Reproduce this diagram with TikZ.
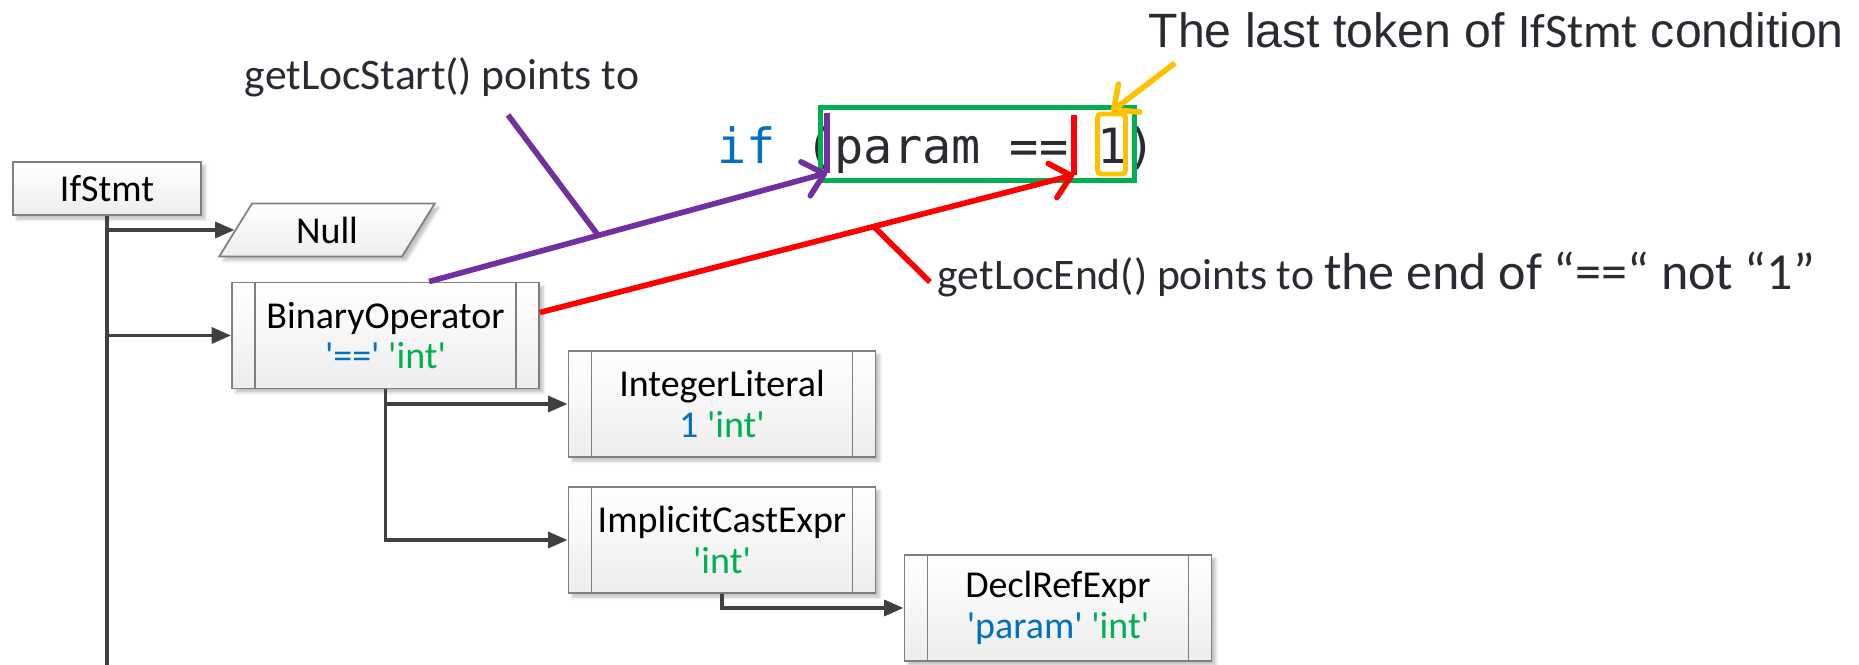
\documentclass[tikz,border=0pt]{standalone}
\usepackage{fontspec}
\usepackage{xcolor}
\usetikzlibrary{arrows.meta,shapes.geometric,shadows.blur}
\newfontfamily\boxfont[Ligatures=TeXOff]{Carlito}
\newfontfamily\notefont{Carlito}
\newfontfamily\titlefont{Liberation Sans}
\newfontfamily\codefont{DejaVu Sans Mono}
\definecolor{boxgray}{HTML}{7F7F7F}
\definecolor{connect}{HTML}{404040}
\definecolor{codeblue}{HTML}{0070C0}
\definecolor{typegreen}{HTML}{00B050}
\definecolor{condgreen}{HTML}{00B050}
\definecolor{startpurple}{HTML}{7030A0}
\definecolor{endred}{HTML}{FF0000}
\definecolor{tokorange}{HTML}{FFC000}
\definecolor{notegray}{HTML}{2A2A33}

\begin{document}
\begin{tikzpicture}[x=0.01cm,y=-0.01cm,
    astbox/.style = {draw=boxgray, line width=0.5pt, top color=white, bottom color=black!7,
      font=\boxfont\fontsize{10.8}{11.6}\selectfont, align=center, inner sep=0pt,
      blur shadow={shadow xshift=0.04cm, shadow yshift=-0.04cm, shadow blur radius=0.03cm, shadow opacity=25}},
    procbox/.style = {astbox, minimum width=3.07cm, minimum height=1.06cm,
      path picture={\draw[boxgray, line width=0.5pt]
        ([xshift=0.23cm]path picture bounding box.north west) -- ([xshift=0.23cm]path picture bounding box.south west)
        ([xshift=-0.23cm]path picture bounding box.north east) -- ([xshift=-0.23cm]path picture bounding box.south east);}},
    datanode/.style = {astbox, trapezium, trapezium left angle=63, trapezium right angle=117,
      trapezium stretches=true, minimum width=2.16cm, minimum height=0.53cm},
    conn/.style = {draw=connect, line width=1.05pt, -{Triangle[length=5.5pt,width=4.5pt]}},
    trunkline/.style = {draw=connect, line width=1.05pt},
    startline/.style = {draw=startpurple, line width=1.6pt},
    endline/.style = {draw=endred, line width=1.6pt},
    tokline/.style = {draw=tokorange, line width=1.6pt},
    barb/.style = {-{Straight Barb[length=5.5pt,width=10pt,round]}},
    codetext/.style = {font=\codefont\fontsize{13.8}{17}\selectfont, text=notegray, inner sep=0pt},
    notetext/.style = {font=\notefont\fontsize{12.4}{14}\selectfont, text=notegray, inner sep=0pt},
    titletext/.style = {font=\titlefont\fontsize{13.7}{16}\selectfont, text=notegray, inner sep=0pt}]
  \useasboundingbox (0,0) rectangle (1859,665);

  \node[astbox, minimum width=1.88cm, minimum height=0.53cm] at (107,188.5)(ifstmt){IfStmt};
  \node[datanode] at (327,230)(null){Null};
  \node[procbox] at (385.5,335.5)(binop){BinaryOperator\\\textcolor{codeblue}{'=='} \textcolor{typegreen}{'int'}};
  \node[procbox] at (722,404)(intlit){IntegerLiteral\\\textcolor{codeblue}{1} \textcolor{typegreen}{'int'}};
  \node[procbox] at (722,540)(cast){ImplicitCastExpr\\\textcolor{typegreen}{'int'}};
  \node[procbox] at (1058,608)(declref){DeclRefExpr\\\textcolor{codeblue}{'param'} \textcolor{typegreen}{'int'}};

  \coordinate (trunkend) at (107,665);

  \draw[trunkline] (ifstmt.south) -- (trunkend);
  \draw[conn] (ifstmt.south |- null) -- (null);
  \draw[conn] (ifstmt.south |- binop) -- (binop);
  \draw[conn] (binop.south) |- (intlit);
  \draw[conn] (binop.south) |- (cast);
  \draw[conn] (cast.south) |- (declref);

  \node[codetext, anchor=base west] at (717,164)(code){\textcolor{codeblue}{if} (param == 1)};
  \node[draw=condgreen, line width=1.4pt, minimum width=3.14cm, minimum height=0.73cm, inner sep=0pt] at (977.5,144)(cond){};
  \node[draw=tokorange, line width=1.4pt, rounded corners=1pt, minimum width=0.28cm, minimum height=0.6cm, inner sep=0pt] at (1111.5,144)(lasttok){};

  \coordinate (starttop) at (827,113);
  \coordinate (startmark) at (827,173);
  \coordinate (endtop) at (1074,115);
  \coordinate (endmark) at (1074,175);

  \draw[startline, line width=1.8pt] (starttop) -- (startmark);
  \draw[endline, line width=1.8pt] (endtop) -- (endmark);

  \draw[startline, barb] ([xshift=0.435cm]binop.north) -- coordinate[pos=0.425](startfoot) (startmark);
  \draw[endline, barb] ([yshift=0.23cm]binop.east) -- coordinate[pos=0.625](endfoot) (endmark);

  \node[notetext, anchor=base] at (442,90)(startnote){getLocStart() points to};
  \node[notetext, anchor=base west] at (937,290)(endnote){getLocEnd() points to {\fontsize{14.8}{18}\selectfont the end of “==“ not “1”}};
  \node[titletext, anchor=base west] at (1148,48)(lastnote){The last token of {\boxfont IfStmt} condition};

  \coordinate (startlead) at (508,115);
  \coordinate (endlead) at (930,282);
  \coordinate (lastlead) at (1175,63);

  \draw[startline] (startlead) -- (startfoot);
  \draw[endline] (endfoot) -- (endlead);
  \draw[tokline, barb] (lastlead) -- (lasttok.north);

\end{tikzpicture}
\end{document}
